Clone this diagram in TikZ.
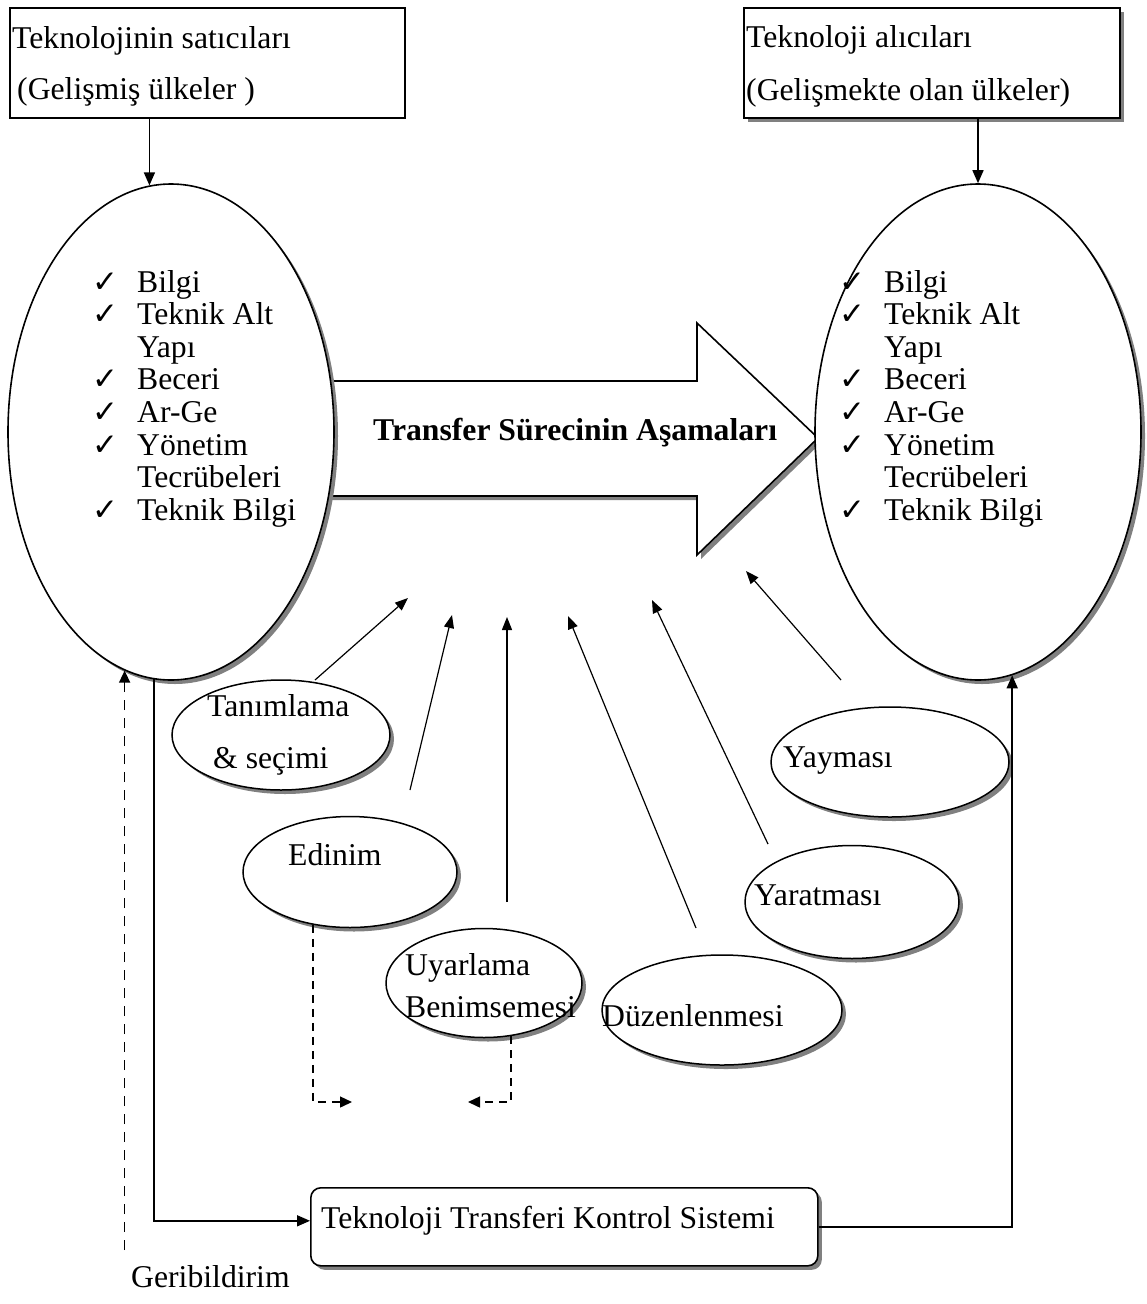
\documentclass[tikz,border=0pt]{standalone}
\usepackage{fontspec}
\setmainfont{Liberation Serif}
\newfontfamily\symfont{DejaVu Sans}
\usetikzlibrary{shapes.geometric, arrows.meta, shadows}
\definecolor{shadowgray}{RGB}{128,128,128}
\newcommand{\ck}{{\symfont\fontsize{31}{31}\selectfont ✓}}
\newcommand{\assetlist}{\begin{tabular}[t]{@{}p{45pt}@{}l@{}}
\ck & Bilgi\\
\ck & Teknik Alt\\
    & Yapı\\
\ck & Beceri\\
\ck & Ar-Ge\\
\ck & Yönetim\\
    & Tecrübeleri\\
\ck & Teknik Bilgi
\end{tabular}}

\begin{document}
\begin{tikzpicture}[
    x=1pt, y=-1pt,
    txt/.style={inner sep=0pt, anchor=base west, font=\fontsize{31.7}{32.6}\selectfont},
    frame/.style={rectangle, draw, line width=1.6pt, fill=white, anchor=north west, inner sep=0pt},
    shade/.style={drop shadow={shadow xshift=4pt, shadow yshift=-4pt, fill=shadowgray, opacity=1}},
    bigell/.style={ellipse, draw, line width=1.6pt, fill=white, inner sep=0pt, minimum width=326pt, minimum height=496pt},
    stage/.style={ellipse, draw, line width=1.5pt, fill=white, inner sep=0pt},
    arrow/.style={-{Triangle[length=13pt, width=10pt]}, line width=1.2pt},
    flow/.style={-{Triangle[length=13pt, width=11pt]}, line width=1.6pt},
    dasharrow/.style={-{Triangle[length=12pt, width=11pt]}, line width=1.4pt, dash pattern=on 8pt off 6pt}
]
\useasboundingbox (0,0) rectangle (1147,1304);

% Seller and buyer boxes
\node[frame, minimum width=395pt, minimum height=110pt] (seller) at (9,7) {};
\node[txt, font=\fontsize{31.7}{51}\selectfont] (sellertxt) at (12,48)
    {\begin{tabular}[t]{@{}l@{}}Teknolojinin satıcıları\\\hspace*{5pt}(Gelişmiş ülkeler )\end{tabular}};
\node[frame, shade, minimum width=376pt, minimum height=110pt] (buyer) at (743,7) {};
\node[txt, font=\fontsize{31.7}{53}\selectfont] (buyertxt) at (746,47)
    {\begin{tabular}[t]{@{}l@{}}Teknoloji alıcıları\\(Gelişmekte olan ülkeler)\end{tabular}};

% Transfer arrow (behind the ellipses)
\draw[line width=1.6pt, fill=white, shade] (300,381) -- (697,381) -- (697,323) -- (818,438)
    -- (697,555) -- (697,496) -- (300,496) -- cycle;
\node[txt, font=\fontsize{31.7}{32.6}\selectfont\bfseries] (stages) at (373,440) {Transfer Sürecinin Aşamaları};

% Seller and buyer ellipses
\node[bigell, shade] (lell) at (171,432) {};
\node[bigell, shade] (rell) at (978,432) {};
\node[txt] (selllist) at (92,292) {\assetlist};
\node[txt] (buylist) at (839,292) {\assetlist};

\draw[flow] (seller.south -| lell.95) -- (lell.95);
\draw[flow] (buyer.south -| rell.north) -- (rell.north);

% Stages of the process
\node[stage, shade, minimum width=218pt, minimum height=110pt] (tanim) at (281,735) {};
\node[stage, shade, minimum width=214pt, minimum height=111pt] (edinim) at (350,872) {};
\node[stage, shade, minimum width=196pt, minimum height=109pt] (uyar) at (484,983) {};
\node[stage, shade, minimum width=240pt, minimum height=110pt] (duzen) at (722,1010) {};
\node[stage, shade, minimum width=214pt, minimum height=113pt] (yarat) at (852,902) {};
\node[stage, shade, minimum width=238pt, minimum height=110pt] (yayma) at (890,762) {};

\node[txt, font=\fontsize{31.7}{52}\selectfont] (tanimtxt) at (207,716)
    {\begin{tabular}[t]{@{}l@{}}Tanımlama\\\hspace*{6pt}\& seçimi\end{tabular}};
\node[txt] (edinimtxt) at (288,865) {Edinim};
\node[txt, font=\fontsize{31.7}{42}\selectfont] (uyartxt) at (405,975)
    {\begin{tabular}[t]{@{}l@{}}Uyarlama\\Benimsemesi\end{tabular}};
\node[txt] (duzentxt) at (602,1026) {Düzenlenmesi};
\node[txt] (yarattxt) at (754,905) {Yaratması};
\node[txt] (yaymatxt) at (783,767) {Yayması};

% Arrows towards the transfer arrow
\coordinate (tanim-s) at (315,680);  \coordinate (tanim-e) at (408,598);
\coordinate (edinim-s) at (410,790); \coordinate (edinim-e) at (452,615);
\coordinate (uyar-s) at (507,902);   \coordinate (uyar-e) at (507,617);
\coordinate (duzen-s) at (696,928);  \coordinate (duzen-e) at (568,616);
\coordinate (yarat-s) at (768,844);  \coordinate (yarat-e) at (652,600);
\coordinate (yayma-s) at (841,680);  \coordinate (yayma-e) at (746,571);
\foreach \n in {tanim,edinim,uyar,duzen,yarat,yayma}
    \draw[arrow] (\n-s) -- (\n-e);

% Dashed links under Edinim and Uyarlama
\coordinate (dropL) at (352,1102);
\coordinate (dropR) at (468,1102);
\draw[dasharrow] (edinim.235) |- (dropL);
\draw[dasharrow] (uyar.297) |- (dropR);

% Control system
\node[frame, shade, rounded corners=10pt, minimum width=507pt, minimum height=78pt] (ctrl) at (310,1187) {};
\node[txt] (ctrltxt) at (321,1228) {Teknoloji Transferi Kontrol Sistemi};
\draw[flow] (lell.266) |- ([yshift=6pt]ctrl.west);
\draw[flow] (ctrl.east) -| (rell.278);

% Feedback
\coordinate (fb) at (124,1250);
\draw[dasharrow, dash pattern=on 10pt off 8pt] (lell.259 |- fb) -- (lell.259);
\node[txt] (fbtxt) at (131,1287) {Geribildirim};

\end{tikzpicture}
\end{document}
